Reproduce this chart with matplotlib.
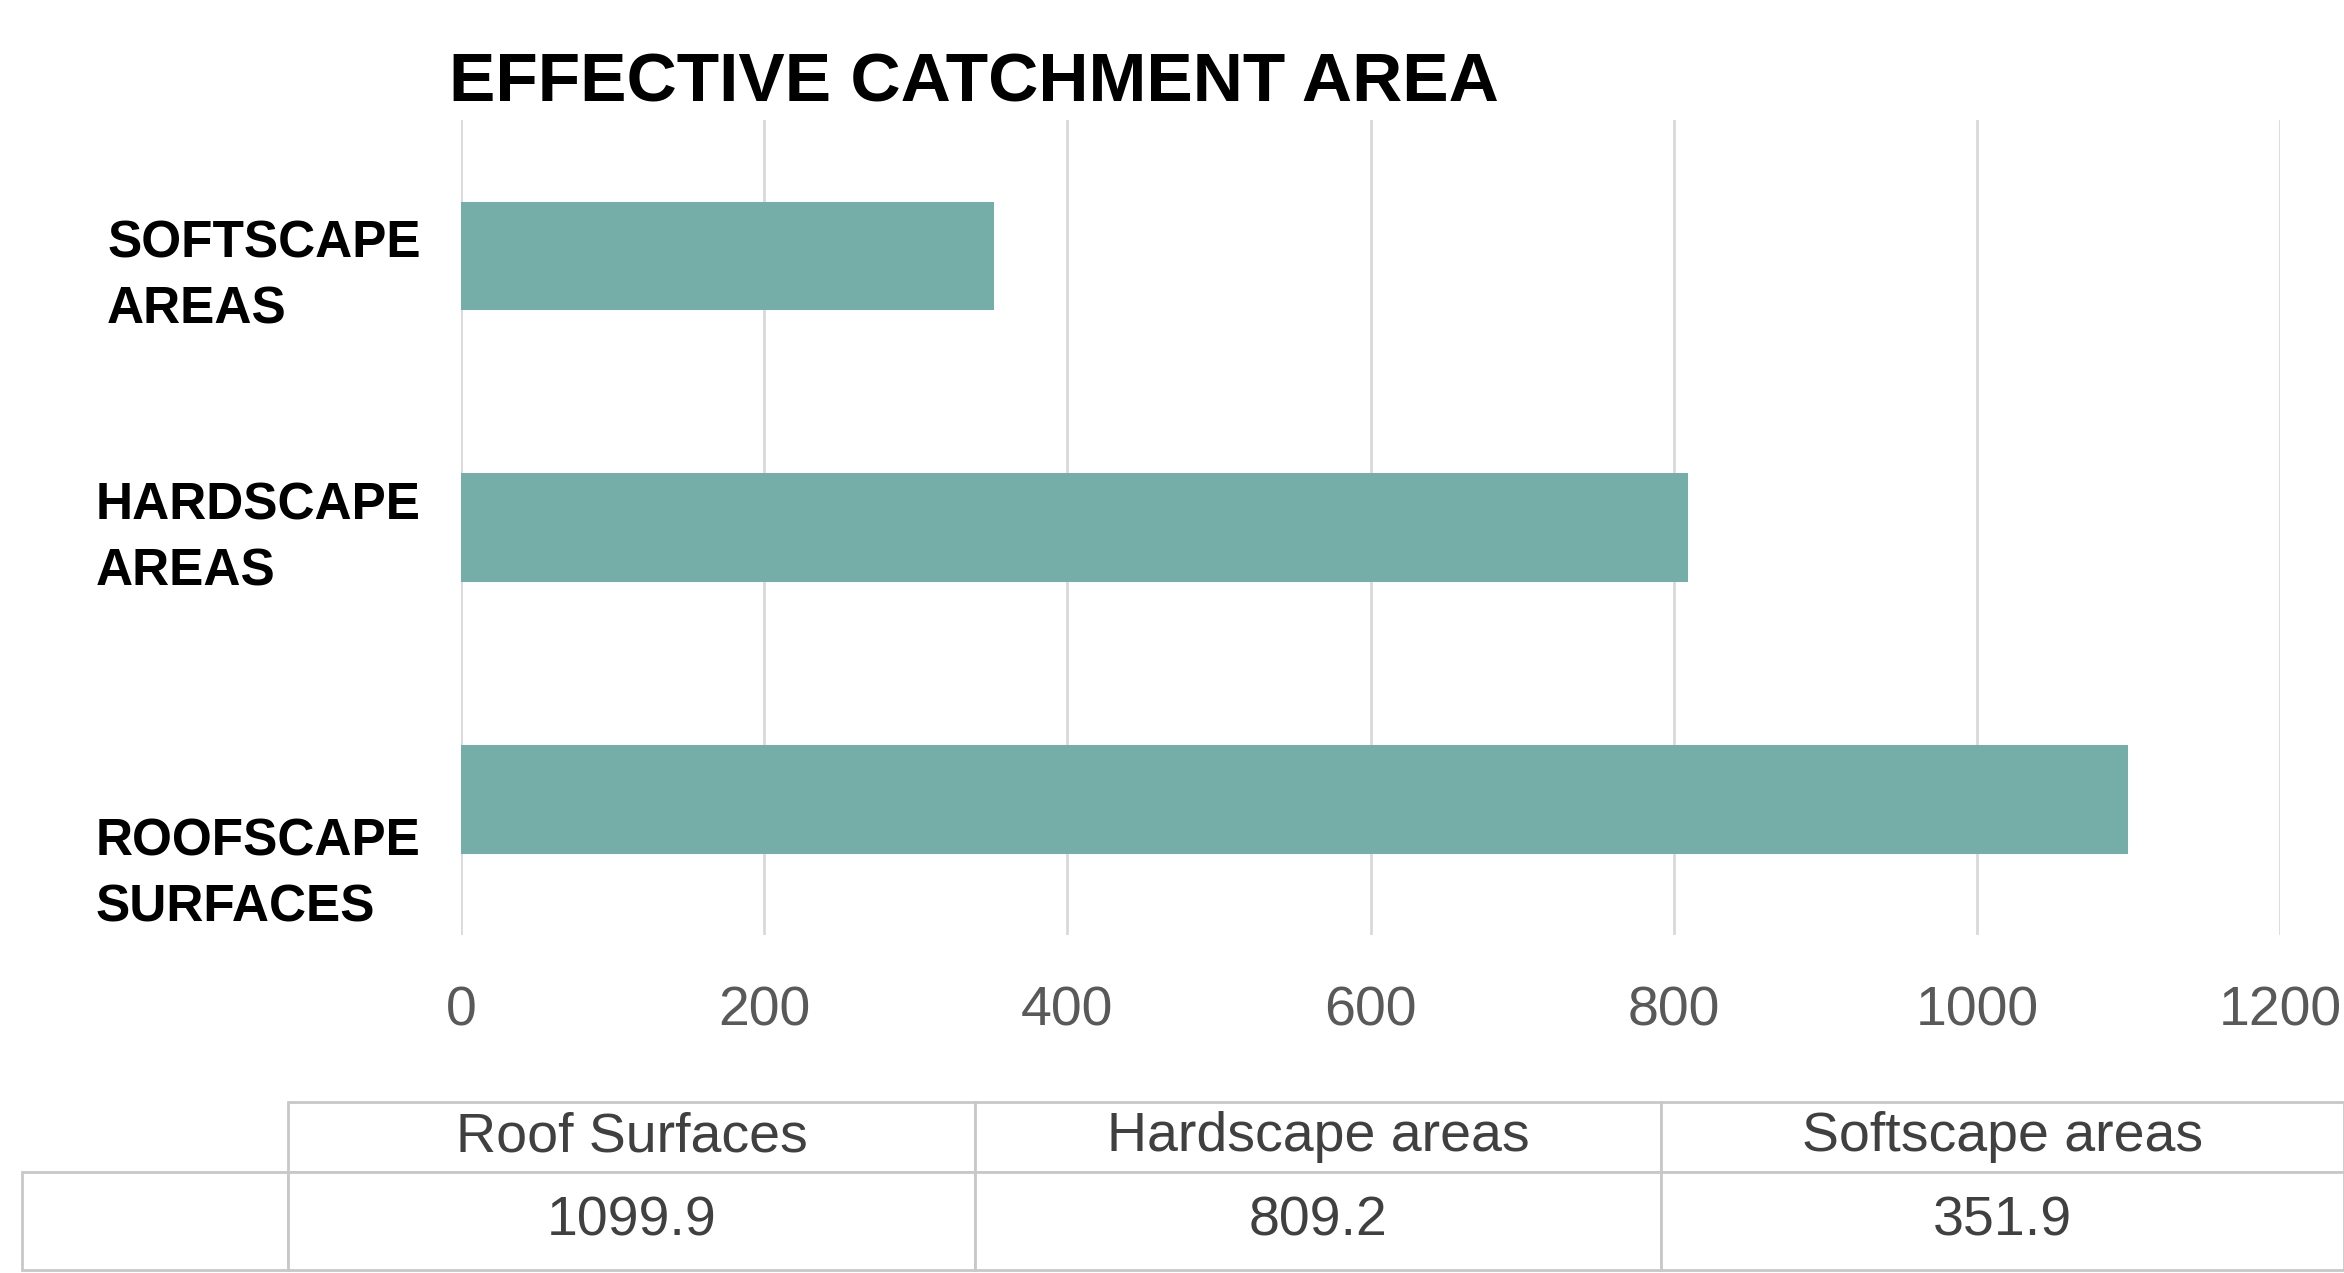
import matplotlib
matplotlib.use('Agg')
from matplotlib import pyplot as plt
from matplotlib.transforms import ScaledTranslation

plt.rcParams['font.family'] = ['Liberation Sans', 'DejaVu Sans']

# data
categories = ['ROOFSCAPE\nSURFACES', 'HARDSCAPE\nAREAS', 'SOFTSCAPE\nAREAS']
table_names = ['Roof Surfaces', 'Hardscape areas', 'Softscape areas']
values = [1099.9, 809.2, 351.9]
x_ticks = [0, 200, 400, 600, 800, 1000, 1200]

bar_color = '#75aea8'
grid_color = '#d9d9d9'
text_gray = '#404040'

W, H = 2344, 1273
fig = plt.figure(figsize=(W / 100, H / 100), dpi=100)
ax = fig.add_axes([461 / W, 1 - 935 / H, (2280 - 461) / W, (935 - 120) / H])

ypos = list(range(len(categories)))
ax.barh(ypos, values, height=0.4, color=bar_color, zorder=2)
ax.set_xlim(0, 1200)
ax.set_ylim(-0.5, 2.5)
ax.set_xticks(x_ticks)
ax.set_xticklabels([str(t) for t in x_ticks], fontsize=40, color='#595959')
ax.tick_params(axis='x', length=0, pad=36)
ax.grid(axis='x', color=grid_color, linewidth=2, zorder=0)
for s in ax.spines.values():
    s.set_visible(False)

ax.set_yticks(ypos)
ax.set_yticklabels(categories, fontsize=37, fontweight='bold', color='black',
                   multialignment='left', linespacing=1.45)
ax.tick_params(axis='y', length=0, pad=29)
# labels sit a bit low in the original, the bottom one more so
shifts = [0.62, -0.025, 0.07]
for lab, dy in zip(ax.get_yticklabels(), shifts):
    lab.set_transform(lab.get_transform() + ScaledTranslation(0, -dy, fig.dpi_scale_trans))

fig.text(449 / W, 1 - 102 / H, 'EFFECTIVE CATCHMENT AREA', fontsize=50,
         fontweight='bold', ha='left', va='baseline')

# data table under the chart
tax = fig.add_axes([22 / W, 3 / H, (W - 22) / W, (1270 - 1102) / H])
tax.axis('off')
col_w = [266, 687, 686, 683]
tbl = tax.table(cellText=[[''] + [f'{v:.1f}' for v in values]],
                colLabels=[''] + table_names,
                colWidths=[w / sum(col_w) for w in col_w],
                cellLoc='center', bbox=[0, 0, 1, 1])
tbl.auto_set_font_size(False)
tbl.set_fontsize(40)
row_h = [70, 98]
for (r, c), cell in tbl.get_celld().items():
    cell.set_height(row_h[r])
    cell.set_edgecolor('#c8c8c8')
    cell.set_linewidth(2)
    cell.get_text().set_color(text_gray)
tbl[(0, 0)].set_visible(False)

plt.savefig('out.png', dpi=100)
